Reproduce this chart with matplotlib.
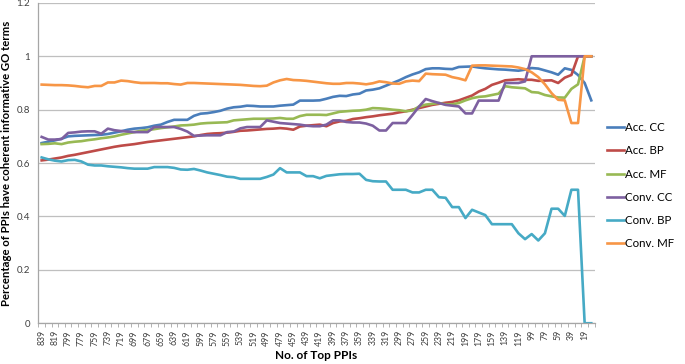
import matplotlib.pyplot as plt
import numpy as np

# top-N PPI cut-offs (839 down to 9, step 10)
top_ppis = list(range(839, 0, -10))

acc_cc = [0.675, 0.68, 0.685, 0.691, 0.70, 0.702, 0.703, 0.704, 0.705, 0.706,
          0.709, 0.714, 0.719, 0.725, 0.729, 0.731, 0.734, 0.74, 0.744, 0.754,
          0.762, 0.762, 0.762, 0.777, 0.785, 0.787, 0.791, 0.796, 0.804, 0.809,
          0.811, 0.815, 0.814, 0.812, 0.812, 0.812, 0.815, 0.817, 0.819, 0.834,
          0.834, 0.834, 0.835, 0.841, 0.848, 0.852, 0.851, 0.857, 0.86, 0.872,
          0.875, 0.88, 0.89, 0.90, 0.91, 0.922, 0.932, 0.94, 0.952, 0.955,
          0.955, 0.953, 0.952, 0.96, 0.961, 0.962, 0.958, 0.955, 0.953, 0.951,
          0.95, 0.948, 0.946, 0.95, 0.956, 0.954, 0.947, 0.94, 0.931, 0.955,
          0.949, 0.93, 0.90, 0.835]

acc_bp = [0.61, 0.613, 0.617, 0.621, 0.627, 0.631, 0.636, 0.641, 0.646, 0.651,
          0.656, 0.661, 0.665, 0.668, 0.671, 0.675, 0.679, 0.682, 0.685, 0.688,
          0.691, 0.694, 0.697, 0.70, 0.705, 0.709, 0.711, 0.712, 0.714, 0.717,
          0.721, 0.722, 0.724, 0.726, 0.728, 0.729, 0.731, 0.729, 0.725, 0.737,
          0.74, 0.742, 0.744, 0.738, 0.75, 0.756, 0.758, 0.765, 0.768, 0.772,
          0.775, 0.779, 0.782, 0.785, 0.79, 0.794, 0.80, 0.806, 0.812, 0.818,
          0.822, 0.826, 0.829, 0.835, 0.844, 0.853, 0.868, 0.878, 0.893, 0.901,
          0.91, 0.912, 0.914, 0.912, 0.912, 0.908, 0.909, 0.91, 0.90, 0.92,
          0.93, 1.0, 1.0, 1.0]

acc_mf = [0.671, 0.672, 0.674, 0.671, 0.677, 0.68, 0.682, 0.686, 0.689, 0.693,
          0.696, 0.70, 0.706, 0.711, 0.716, 0.721, 0.724, 0.727, 0.731, 0.734,
          0.737, 0.741, 0.742, 0.744, 0.748, 0.75, 0.751, 0.752, 0.753, 0.76,
          0.762, 0.764, 0.766, 0.766, 0.766, 0.767, 0.769, 0.766, 0.766, 0.776,
          0.781, 0.781, 0.781, 0.78, 0.786, 0.792, 0.794, 0.796, 0.797, 0.80,
          0.806, 0.805, 0.803, 0.80, 0.798, 0.794, 0.797, 0.812, 0.819, 0.822,
          0.825, 0.82, 0.82, 0.825, 0.835, 0.843, 0.848, 0.85, 0.855, 0.86,
          0.888, 0.884, 0.882, 0.88, 0.866, 0.864, 0.855, 0.85, 0.846, 0.845,
          0.878, 0.895, 1.0, 1.0]

conv_cc = [0.698, 0.688, 0.688, 0.69, 0.713, 0.715, 0.718, 0.719, 0.719, 0.71,
           0.729, 0.723, 0.72, 0.718, 0.716, 0.716, 0.716, 0.735, 0.735, 0.735,
           0.735, 0.728, 0.718, 0.702, 0.703, 0.704, 0.704, 0.704, 0.716, 0.718,
           0.73, 0.735, 0.735, 0.735, 0.76, 0.755, 0.75, 0.748, 0.746, 0.744,
           0.74, 0.738, 0.738, 0.744, 0.76, 0.76, 0.754, 0.752, 0.752, 0.748,
           0.74, 0.722, 0.722, 0.75, 0.75, 0.75, 0.78, 0.812, 0.84, 0.832,
           0.825, 0.818, 0.815, 0.812, 0.786, 0.786, 0.834, 0.834, 0.834, 0.834,
           0.90, 0.90, 0.90, 0.906, 1.0, 1.0, 1.0, 1.0, 1.0, 1.0,
           1.0, 1.0, 1.0, 1.0]

conv_bp = [0.621, 0.614, 0.609, 0.606, 0.611, 0.612, 0.606, 0.594, 0.591, 0.591,
           0.588, 0.586, 0.584, 0.581, 0.579, 0.579, 0.579, 0.585, 0.585, 0.585,
           0.582, 0.576, 0.575, 0.578, 0.572, 0.565, 0.56, 0.555, 0.549, 0.547,
           0.541, 0.541, 0.541, 0.541, 0.548, 0.557, 0.581, 0.565, 0.565, 0.565,
           0.551, 0.551, 0.543, 0.552, 0.555, 0.558, 0.559, 0.559, 0.56, 0.537,
           0.532, 0.531, 0.531, 0.50, 0.50, 0.50, 0.49, 0.49, 0.50, 0.50,
           0.472, 0.47, 0.435, 0.435, 0.394, 0.425, 0.415, 0.405, 0.371, 0.371,
           0.371, 0.371, 0.337, 0.315, 0.334, 0.31, 0.337, 0.429, 0.429, 0.402,
           0.50, 0.50, 0.0, 0.0]

conv_mf = [0.894, 0.893, 0.892, 0.892, 0.891, 0.889, 0.886, 0.884, 0.889, 0.889,
           0.902, 0.902, 0.909, 0.907, 0.903, 0.90, 0.90, 0.90, 0.899, 0.899,
           0.896, 0.894, 0.90, 0.90, 0.899, 0.898, 0.897, 0.896, 0.895, 0.894,
           0.893, 0.891, 0.889, 0.888, 0.89, 0.902, 0.91, 0.915, 0.911, 0.91,
           0.908, 0.905, 0.902, 0.899, 0.897, 0.897, 0.90, 0.90, 0.898, 0.895,
           0.899, 0.906, 0.903, 0.898, 0.897, 0.906, 0.909, 0.907, 0.935, 0.933,
           0.932, 0.931, 0.922, 0.917, 0.91, 0.965, 0.966, 0.966, 0.965, 0.964,
           0.963, 0.962, 0.958, 0.952, 0.94, 0.922, 0.895, 0.862, 0.837, 0.835,
           0.75, 0.75, 1.0, 1.0]

series = [('Acc. CC', acc_cc, '#4a7ebb'),
          ('Acc. BP', acc_bp, '#be4b48'),
          ('Acc. MF', acc_mf, '#98b954'),
          ('Conv. CC', conv_cc, '#7d60a0'),
          ('Conv. BP', conv_bp, '#46aac5'),
          ('Conv. MF', conv_mf, '#f79646')]

plt.rcParams['font.family'] = ['Lato', 'DejaVu Sans']

fig = plt.figure(figsize=(6.85, 3.64), dpi=100)
ax = fig.add_axes([0.056, 0.112, 0.812, 0.88])

x = np.arange(len(top_ppis))
for name, vals, col in series:
    ax.plot(x, vals, color=col, lw=1.9, label=name, solid_joinstyle='round')

ax.set_xlim(-0.5, len(top_ppis) - 0.5)
ax.set_ylim(0, 1.2)
ax.set_yticks(np.arange(0, 1.21, 0.2))
ax.set_yticklabels(['0', '0.2', '0.4', '0.6', '0.8', '1', '1.2'], fontsize=7, color='#404040')
ax.yaxis.grid(True, color='#bfbfbf', lw=0.9)
ax.set_axisbelow(True)
ax.tick_params(axis='y', length=0, pad=6)

# labels every other category, tick marks between categories
ax.set_xticks(x[::2])
ax.set_xticklabels([str(v) for v in top_ppis[::2]], rotation=90, fontsize=6.3, color='#404040')
ax.set_xticks(np.arange(-0.5, len(top_ppis), 1), minor=True)
ax.tick_params(axis='x', which='major', length=0, pad=5)
ax.tick_params(axis='x', which='minor', length=3, color='#a6a6a6', direction='out')

for s in ['top', 'right']:
    ax.spines[s].set_visible(False)
for s in ['left', 'bottom']:
    ax.spines[s].set_color('#a6a6a6')
    ax.spines[s].set_linewidth(0.9)

ax.set_xlabel('No. of Top PPIs', fontsize=8.5, fontweight='bold', labelpad=3)
ax.set_ylabel('Percentage of PPIs have coherent informative GO terms', fontsize=8.2,
              fontweight='bold', labelpad=3)

fig.legend(loc='center left', bbox_to_anchor=(0.876, 0.49), frameon=False,
           fontsize=8.3, handlelength=1.5, handletextpad=0.1, labelspacing=1.05,
           borderaxespad=0.2)

plt.savefig('out.png', dpi=100)
